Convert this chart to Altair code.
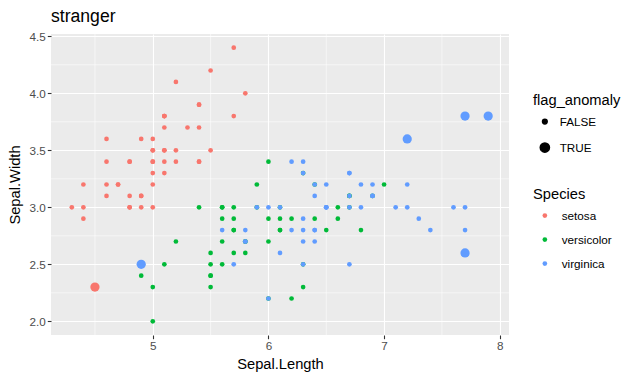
import altair as alt
import pandas as pd

setosa_len = [5.1,4.9,4.7,4.6,5.0,5.4,4.6,5.0,4.4,4.9,5.4,4.8,4.8,4.3,5.8,5.7,5.4,5.1,5.7,5.1,
              5.4,5.1,4.6,5.1,4.8,5.0,5.0,5.2,5.2,4.7,4.8,5.4,5.2,5.5,4.9,5.0,5.5,4.9,4.4,5.1,
              5.0,4.5,4.4,5.0,5.1,4.8,5.1,4.6,5.3,5.0]
setosa_wid = [3.5,3.0,3.2,3.1,3.6,3.9,3.4,3.4,2.9,3.1,3.7,3.4,3.0,3.0,4.0,4.4,3.9,3.5,3.8,3.8,
              3.4,3.7,3.6,3.3,3.4,3.0,3.4,3.5,3.4,3.2,3.1,3.4,4.1,4.2,3.1,3.2,3.5,3.6,3.0,3.4,
              3.5,2.3,3.2,3.5,3.8,3.0,3.8,3.2,3.7,3.3]
versi_len = [7.0,6.4,6.9,5.5,6.5,5.7,6.3,4.9,6.6,5.2,5.0,5.9,6.0,6.1,5.6,6.7,5.6,5.8,6.2,5.6,
             5.9,6.1,6.3,6.1,6.4,6.6,6.8,6.7,6.0,5.7,5.5,5.5,5.8,6.0,5.4,6.0,6.7,6.3,5.6,5.5,
             5.5,6.1,5.8,5.0,5.6,5.7,5.7,6.2,5.1,5.7]
versi_wid = [3.2,3.2,3.1,2.3,2.8,2.8,3.3,2.4,2.9,2.7,2.0,3.0,2.2,2.9,2.9,3.1,3.0,2.7,2.2,2.5,
             3.2,2.8,2.5,2.8,2.9,3.0,2.8,3.0,2.9,2.6,2.4,2.4,2.7,2.7,3.0,3.4,3.1,2.3,3.0,2.5,
             2.6,3.0,2.6,2.3,2.7,3.0,2.9,2.9,2.5,2.8]
virg_len = [6.3,5.8,7.1,6.3,6.5,7.6,4.9,7.3,6.7,7.2,6.5,6.4,6.8,5.7,5.8,6.4,6.5,7.7,7.7,6.0,
            6.9,5.6,7.7,6.3,6.7,7.2,6.2,6.1,6.4,7.2,7.4,7.9,6.4,6.3,6.1,7.7,6.3,6.4,6.0,6.9,
            6.7,6.9,5.8,6.8,6.7,6.7,6.3,6.5,6.2,5.9]
virg_wid = [3.3,2.7,3.0,2.9,3.0,3.0,2.5,2.9,2.5,3.6,3.2,2.7,3.0,2.5,2.8,3.2,3.0,3.8,2.6,2.2,
            3.2,2.8,2.8,2.7,3.3,3.2,2.8,3.0,2.8,3.0,2.8,3.8,2.8,2.8,2.6,3.0,3.4,3.1,3.0,3.1,
            3.1,3.1,2.7,3.2,3.3,3.0,2.5,3.0,3.4,3.0]
anomaly_rows = [41, 106, 109, 117, 118, 131]

species_names = ["setosa", "versicolor", "virginica"]
species_colors = ["#F8766D", "#00BA38", "#619CFF"]
x_ticks = [5, 6, 7, 8]
y_ticks = [2.0, 2.5, 3.0, 3.5, 4.0, 4.5]
x_minor = [4.5, 5.5, 6.5, 7.5]
y_minor = [2.25, 2.75, 3.25, 3.75, 4.25]

lengths = setosa_len + versi_len + virg_len
widths = setosa_wid + versi_wid + virg_wid
species = ["setosa"] * 50 + ["versicolor"] * 50 + ["virginica"] * 50
flags = ["TRUE" if i in anomaly_rows else "FALSE" for i in range(150)]
df = pd.DataFrame({"sl": lengths, "sw": widths,
                   "Species": species, "flag_anomaly": flags})

FONT = "Liberation Sans"
xscale = alt.Scale(domain=[4.12, 8.08], nice=False, zero=False)
yscale = alt.Scale(domain=[1.88, 4.52], nice=False, zero=False)

xminor = alt.Chart(pd.DataFrame({"v": x_minor})).mark_rule(
    color="white", strokeWidth=0.55).encode(x=alt.X("v:Q", scale=xscale))
yminor = alt.Chart(pd.DataFrame({"v": y_minor})).mark_rule(
    color="white", strokeWidth=0.55).encode(y=alt.Y("v:Q", scale=yscale))

points = alt.Chart(df).mark_circle(opacity=1).encode(
    x=alt.X("sl:Q", scale=xscale, title="Sepal.Length",
            axis=alt.Axis(values=x_ticks, format="d")),
    y=alt.Y("sw:Q", scale=yscale, title="Sepal.Width",
            axis=alt.Axis(values=y_ticks, format=".1f")),
    color=alt.Color("Species:N",
                    scale=alt.Scale(domain=species_names, range=species_colors),
                    legend=alt.Legend(orient="none", legendX=482, legendY=153,
                                      symbolSize=22, symbolType="circle",
                                      symbolOffset=6, labelOffset=11,
                                      rowPadding=11, titlePadding=8)),
    size=alt.Size("flag_anomaly:N",
                  scale=alt.Scale(domain=["FALSE", "TRUE"], range=[22, 85]),
                  legend=alt.Legend(orient="none", legendX=482, legendY=59,
                                    symbolFillColor="black", symbolStrokeColor="black",
                                    symbolType="circle", symbolOffset=6, labelOffset=9,
                                    rowPadding=11, titlePadding=8)),
)

chart = alt.layer(xminor, yminor, points).properties(
    width=458, height=301,
    title=alt.TitleParams("stranger", anchor="start", frame="group", fontSize=17.6,
                          font=FONT, fontWeight="normal", color="black", offset=6),
    autosize=alt.AutoSizeParams(type="none"),
    padding={"left": 43, "top": 26, "right": 116, "bottom": 37},
).configure_view(
    fill="#EBEBEB", stroke=None
).configure_axis(
    gridColor="white", gridWidth=1.1, domain=False,
    tickColor="#333333", tickSize=3.7, tickWidth=1.1,
    labelColor="#4D4D4D", labelFont=FONT, labelFontSize=11.7, labelPadding=2,
    titleFont=FONT, titleFontSize=14.7, titleFontWeight="normal", titleColor="black",
).configure_axisX(titlePadding=4).configure_axisY(titlePadding=7).configure_legend(
    titleFont=FONT, titleFontSize=14.7, titleFontWeight="normal", titleColor="black",
    labelFont=FONT, labelFontSize=11.7, labelColor="black",
)

chart.save("out.html", embed_options={"renderer": "svg", "actions": False})
